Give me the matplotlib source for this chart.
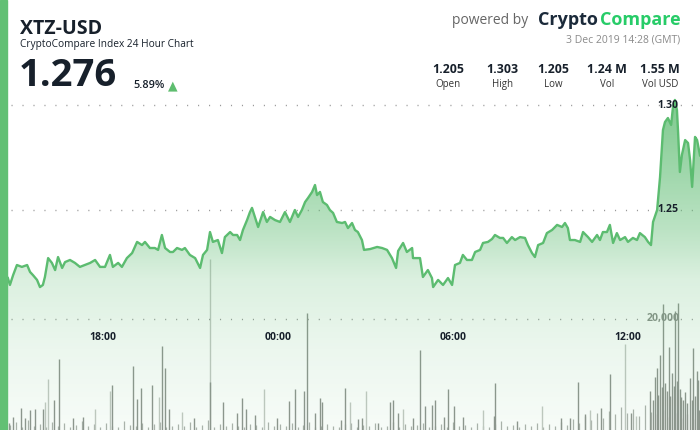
import numpy as np
import matplotlib
matplotlib.use("Agg")
import matplotlib.pyplot as plt
from matplotlib.patches import Rectangle
from matplotlib.transforms import blended_transform_factory

plt.rcParams['font.family'] = ['Open Sans', 'DejaVu Sans']

# time axis: hours since 14:28 (2 Dec 2019, GMT)
price_hours = [0.27, 0.34, 0.45, 0.58, 0.75, 0.93, 1.03, 1.13, 1.27, 1.37, 1.47, 1.54, 1.65, 1.78, 1.89,
               1.95, 1.99, 2.13, 2.23, 2.40, 2.57, 2.74, 2.91, 3.09, 3.26, 3.43, 3.60, 3.77, 3.87, 4.05,
               4.18, 4.35, 4.53, 4.70, 4.87, 4.97, 5.14, 5.31, 5.42, 5.55, 5.66, 5.83, 5.93, 6.07, 6.24,
               6.34, 6.51, 6.69, 6.86, 6.96, 7.10, 7.20, 7.30, 7.47, 7.61, 7.71, 7.89, 7.99, 8.13, 8.23,
               8.33, 8.47, 8.57, 8.64, 8.74, 8.85, 9.02, 9.15, 9.26, 9.43, 9.60, 9.77, 9.94, 10.11, 10.22,
               10.35, 10.46, 10.56, 10.70, 10.80, 10.87, 10.97, 11.07, 11.21, 11.31, 11.42, 11.55, 11.73, 11.83, 11.93,
               12.07, 12.17, 12.27, 12.41, 12.48, 12.69, 12.93, 13.10, 13.27, 13.44, 13.58, 13.65, 13.82, 13.95, 14.13,
               14.16, 14.40, 14.50, 14.67, 14.81, 14.85, 15.02, 15.19, 15.36, 15.50, 15.60, 15.77, 15.87, 16.01, 16.18,
               16.29, 16.46, 16.56, 16.73, 16.87, 16.97, 17.14, 17.25, 17.38, 17.55, 17.66, 17.83, 18.00, 18.10, 18.24,
               18.34, 18.45, 18.62, 18.75, 18.93, 19.10, 19.27, 19.37, 19.47, 19.54, 19.71, 19.89, 19.99, 20.16, 20.30,
               20.47, 20.57, 20.67, 20.81, 20.91, 21.02, 21.15, 21.26, 21.43, 21.53, 21.70, 21.84, 21.94, 22.11, 22.22,
               22.32, 22.39, 22.53, 22.63, 22.73, 22.80, 22.90, 23.01, 23.07, 23.14, 23.21, 23.25, 23.31, 23.38, 23.49,
               23.59, 23.66, 23.73, 23.83, 23.90, 24.00]
prices = [1.2176, 1.2143, 1.2190, 1.2238, 1.2229, 1.2238, 1.2205, 1.2190, 1.2167, 1.2133, 1.2143, 1.2181, 1.2271, 1.2248, 1.2214,
          1.2252, 1.2276, 1.2224, 1.2252, 1.2262, 1.2248, 1.2229, 1.2238, 1.2248, 1.2262, 1.2229, 1.2229, 1.2286, 1.2229, 1.2248,
          1.2229, 1.2271, 1.2295, 1.2348, 1.2333, 1.2348, 1.2319, 1.2319, 1.2310, 1.2381, 1.2319, 1.2300, 1.2300, 1.2319, 1.2310,
          1.2319, 1.2286, 1.2271, 1.2224, 1.2286, 1.2310, 1.2395, 1.2348, 1.2357, 1.2295, 1.2371, 1.2395, 1.2381, 1.2381, 1.2357,
          1.2405, 1.2452, 1.2490, 1.2510, 1.2467, 1.2419, 1.2490, 1.2443, 1.2467, 1.2452, 1.2443, 1.2490, 1.2443, 1.2500, 1.2467,
          1.2500, 1.2538, 1.2557, 1.2586, 1.2619, 1.2571, 1.2586, 1.2538, 1.2524, 1.2500, 1.2486, 1.2443, 1.2438, 1.2443, 1.2414,
          1.2438, 1.2405, 1.2395, 1.2357, 1.2310, 1.2314, 1.2324, 1.2319, 1.2310, 1.2271, 1.2224, 1.2305, 1.2343, 1.2300, 1.2319,
          1.2271, 1.2271, 1.2181, 1.2214, 1.2176, 1.2133, 1.2167, 1.2143, 1.2176, 1.2143, 1.2238, 1.2248, 1.2286, 1.2262, 1.2262,
          1.2300, 1.2310, 1.2343, 1.2348, 1.2362, 1.2381, 1.2367, 1.2367, 1.2343, 1.2371, 1.2357, 1.2371, 1.2367, 1.2333, 1.2295,
          1.2276, 1.2333, 1.2343, 1.2390, 1.2405, 1.2429, 1.2419, 1.2438, 1.2414, 1.2357, 1.2357, 1.2348, 1.2395, 1.2371, 1.2348,
          1.2381, 1.2357, 1.2395, 1.2395, 1.2429, 1.2343, 1.2390, 1.2357, 1.2371, 1.2348, 1.2367, 1.2357, 1.2390, 1.2371, 1.2348,
          1.2333, 1.2443, 1.2500, 1.2657, 1.2881, 1.2919, 1.2938, 1.2905, 1.2986, 1.3024, 1.2976, 1.2867, 1.2681, 1.2762, 1.2833,
          1.2819, 1.2738, 1.2610, 1.2848, 1.2833, 1.2760]

# volume spikes (dark and light bars)
vol_dark_hours = [0.31, 0.45, 0.72, 0.86, 1.03, 1.20, 1.47, 1.85, 2.02, 2.50, 2.85, 3.84, 4.56, 4.70, 4.83,
                  5.21, 5.55, 5.66, 5.79, 6.65, 7.20, 7.65, 8.13, 8.30, 8.43, 8.74, 9.50, 9.91, 10.11, 10.42,
                  10.53, 10.80, 10.97, 11.04, 11.69, 11.83, 12.27, 12.41, 12.96, 13.37, 13.47, 13.65, 14.16, 14.40, 14.57,
                  14.81, 14.91, 15.22, 15.36, 15.57, 15.87, 16.94, 16.97, 17.73, 19.23, 19.54, 19.82, 20.06, 20.61, 20.91,
                  21.63, 22.29, 22.39, 22.46, 22.53, 22.56, 22.63, 22.70, 22.73, 22.80, 22.87, 22.94, 22.97, 23.04, 23.11,
                  23.14, 23.21, 23.25, 23.31, 23.35, 23.42, 23.49, 23.56, 23.66, 23.73, 23.76, 23.83, 23.90, 23.93, 23.97]
vol_dark = [1250, 2320, 3930, 2140, 3570, 3750, 3750, 5360, 12860, 2140, 2320, 8040, 11610, 5540, 7500,
            8040, 15180, 11250, 3750, 2140, 8570, 5000, 3040, 5710, 3750, 2680, 2140, 5180, 7320, 6960,
            21070, 3040, 5710, 5000, 1790, 7500, 1960, 2140, 1250, 5000, 5360, 3040, 2140, 14470, 4290,
            4460, 5360, 2320, 7320, 4290, 2320, 2500, 8390, 1610, 2140, 2140, 8570, 2860, 3930, 10180,
            3040, 6960, 5360, 9470, 11250, 6250, 13570, 7680, 22680, 8390, 7000, 15000, 6100, 10360, 7900,
            21430, 8900, 22860, 7300, 5890, 5400, 6790, 4800, 9290, 5400, 14820, 6200, 10710, 8930, 3600]
vol_light_hours = [1.54, 1.65, 3.26, 3.77, 5.45, 6.24, 7.20, 9.05, 12.00, 12.55, 13.82, 16.56, 18.58, 20.23,
                   21.43, 21.81]
vol_light = [5000, 9110, 3750, 6960, 5890, 3210, 30900, 7320, 5000, 6960, 3750, 3570, 4290, 3570,
             15540, 2500]
# small background volume, evenly spread over the 24 hours
vol_small = [900, 1400, 600, 1800, 700, 1100, 500, 1500, 800, 1200, 600, 900, 1600, 700, 1000, 500, 1300, 800,
             600, 1700, 900, 700, 1200, 500, 1000, 1500, 600, 800, 1100, 700, 1400, 500, 900, 1800, 600, 1000,
             700, 1300, 800, 500, 1100, 900, 600, 1500, 700, 1000, 800, 1200, 500, 900, 1400, 600, 700, 1100,
             800, 500, 1000, 1300, 600, 900, 700, 1200, 500, 800, 1500, 600, 1000, 700, 900, 1300, 500, 800,
             1100, 600, 1400, 700, 900, 500, 1200, 800, 600, 1000, 1600, 700, 900, 500, 1100, 800, 1300, 600,
             1000, 700, 1500, 900, 2000, 1200, 2500, 1800, 3000, 2200, 3500, 2800, 4200, 3000, 3800, 2600,
             4500, 3200, 2800, 3600, 2400, 3000, 2200, 2800, 2000, 2600]

tick_hours = [3.533, 9.533, 15.533, 21.533]
tick_labels = ['18:00', '00:00', '06:00', '12:00']
price_ticks = [1.30, 1.25]
vol_ticks = [20000]

stat_values = ['1.205', '1.303', '1.205', '1.24 M', '1.55 M']
stat_names = ['Open', 'High', 'Low', 'Vol', 'Vol USD']

dark = '#17202b'
green_line = '#5cbc70'

fig = plt.figure(figsize=(7, 4.3), dpi=100)
fig.patches.append(Rectangle((0, 0), 7 / 700, 1, transform=fig.transFigure, color='#62c074', zorder=5))

# header
def fy(py):
    return 1 - py / 430

fig.text(20 / 700, fy(34.3), 'XTZ-USD', fontsize=14, fontweight='bold', color=dark, va='baseline')
fig.text(20 / 700, fy(46.7), 'CryptoCompare Index 24 Hour Chart', fontsize=7.3, color=dark, va='baseline')
fig.text(19 / 700, fy(85.5), '1.276', fontsize=27.5, fontweight='bold', color=dark, va='baseline')
fig.text(133 / 700, fy(87.7), '5.89%', fontsize=7.8, fontweight='semibold', color=dark, va='baseline')
fig.text(168 / 700, fy(89.5), '\u25b2', fontsize=9, color='#5ebd6f', va='baseline', family='DejaVu Sans')

fig.text(532 / 700, fy(24.5), 'powered by ', fontsize=10, color='#666666', va='baseline', ha='right')
fig.text(597.5 / 700, fy(25), 'Crypto', fontsize=13, fontweight='bold', color='#1b2a3a', va='baseline', ha='right')
fig.text(681 / 700, fy(25), 'Compare', fontsize=13, fontweight='bold', color='#27cc68', va='baseline', ha='right')
fig.text(680 / 700, fy(42.5), '3 Dec 2019 14:28 (GMT)', fontsize=7.5, color='#8a8a8a', va='baseline', ha='right')

stat_x = [448, 502, 553, 607, 660]
for sx, sv, sn in zip(stat_x, stat_values, stat_names):
    fig.text(sx / 700, fy(72.6), sv, fontsize=8.9, fontweight='bold', color=dark, va='baseline', ha='center')
    fig.text(sx / 700, fy(87), sn, fontsize=7.0, color='#333333', va='baseline', ha='center')

# chart area
ax2 = fig.add_axes([8 / 700, 0, 692 / 700, 335 / 430])
ax = ax2.twinx()
ax.set_zorder(ax2.get_zorder() + 1)
ax.patch.set_visible(False)

x0, x1 = 8 / 700 * 24, 24.0
ylo, yhi = 1.35 - 430 / 2100, 1.35 - 95 / 2100

# volume
hs = np.linspace(0.35, 23.95, len(vol_small))
ax2.vlines(hs, 0, vol_small, color='#9a9f9a', lw=0.9, alpha=0.8)
ax2.vlines(vol_light_hours, 0, vol_light, color='#c3c8c3', lw=1.0)
ax2.vlines(vol_dark_hours, 0, vol_dark, color='#8f948f', lw=1.0)
ax2.set_ylim(0, 60360)
ax2.set_xlim(x0, x1)

# price line with gradient fill
poly = ax.fill_between(price_hours, prices, ylo, color='none', lw=0)
fr = np.linspace(0, 1, 300)
alpha = np.interp(fr, [0, 0.239, 0.448, 0.597, 0.896, 1.0], [0.05, 0.12, 0.22, 0.42, 0.72, 0.8])
img = np.zeros((300, 1, 4))
img[:, 0, 0] = 0.37
img[:, 0, 1] = 0.74
img[:, 0, 2] = 0.45
img[:, 0, 3] = alpha
im = ax.imshow(img, extent=[x0, x1, ylo, yhi], origin='lower', aspect='auto', zorder=1)
im.set_clip_path(poly.get_paths()[0], transform=ax.transData)
ax.plot(price_hours, prices, color=green_line, lw=1.7, zorder=3, solid_joinstyle='round')
ax.set_xlim(x0, x1)
ax.set_ylim(ylo, yhi)

# dotted grid
for p in price_ticks:
    ax.axhline(p, xmin=0.005, color='#9a9a9a', lw=1, dashes=(0.8, 7.1), zorder=0.5)
for v in vol_ticks:
    ax2.axhline(v, xmin=0.005, color='#9a9a9a', lw=1, dashes=(0.8, 7.1))

bt = blended_transform_factory(ax.transAxes, ax.transData)
for p in price_ticks:
    ax.text(0.954, p, f'{p:.2f}', transform=bt, fontsize=7.6, fontweight='bold', color=dark,
            ha='center', va='center', zorder=5)
bt2 = blended_transform_factory(ax2.transAxes, ax2.transData)
for v in vol_ticks:
    ax2.text(0.947, v, f'{v:,}', transform=bt2, fontsize=7.6, fontweight='bold', color='#8a8f8a',
             ha='center', va='center')

bx = blended_transform_factory(ax.transData, ax.transAxes)
for h, lab in zip(tick_hours, tick_labels):
    ax.text(h, 0.2776, lab, transform=bx, fontsize=7.5, fontweight='bold', color=dark,
            ha='center', va='center', zorder=5)

for a in (ax, ax2):
    a.set_xticks([])
    a.set_yticks([])
    for s in a.spines.values():
        s.set_visible(False)

fig.savefig('out.png', dpi=100)
